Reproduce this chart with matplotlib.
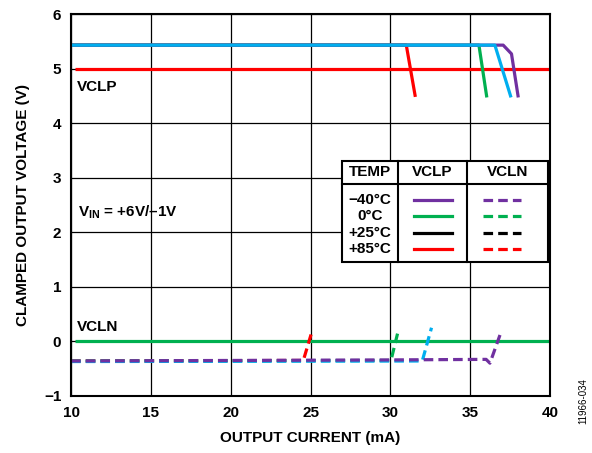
import matplotlib
matplotlib.use("Agg")
import matplotlib.pyplot as plt
from matplotlib.patches import Rectangle

plt.rcParams['font.family'] = ['Liberation Sans', 'DejaVu Sans']
plt.rcParams['font.weight'] = 'bold'
plt.rcParams['mathtext.fontset'] = 'custom'
plt.rcParams['mathtext.bf'] = 'Liberation Sans:bold'
plt.rcParams['mathtext.rm'] = 'Liberation Sans:bold'

# clamp levels
vclp_level = 5.0
vcln_level = 0.0

# VCLP curves (output current mA, clamped voltage V)
vclp_m40_x = [10, 37.07, 37.59, 38.0]
vclp_m40_y = [5.43, 5.43, 5.27, 4.5]
vclp_0_x = [10, 35.55, 36.03]
vclp_0_y = [5.43, 5.43, 4.5]
vclp_25_x = [10, 36.55, 37.53]
vclp_25_y = [5.43, 5.43, 4.5]
vclp_85_x = [10, 31.0, 31.55]
vclp_85_y = [5.43, 5.43, 4.51]

# VCLN curves
vcln_m40_x = [10, 30.0, 36.0, 36.24, 36.97]
vcln_m40_y = [-0.36, -0.34, -0.33, -0.40, 0.2]
vcln_0_x = [10, 30.04, 30.5]
vcln_0_y = [-0.36, -0.35, 0.2]
vcln_25_x = [10, 32.0, 32.58]
vcln_25_y = [-0.37, -0.36, 0.25]
vcln_85_x = [10, 24.55, 25.11]
vcln_85_y = [-0.36, -0.35, 0.2]

temps = ['\u221240\u00b0C', '0\u00b0C', '+25\u00b0C', '+85\u00b0C']
legend_colors = ['#7030A0', '#00B050', '#000000', '#FF0000']

purple = '#7030A0'
green = '#00B050'
blue = '#00AEEF'
red = '#FF0000'

fig = plt.figure(figsize=(5.92, 4.53), dpi=100)
ax = fig.add_axes([0.12, 0.126, 0.809, 0.843])

ax.set_xlim(10, 40)
ax.set_ylim(-1, 6)
ax.set_xticks(range(10, 41, 5))
ax.set_yticks(range(-1, 7))
ax.set_yticklabels(['\u22121', '0', '1', '2', '3', '4', '5', '6'])
ax.grid(True, color='black', linewidth=0.9)
ax.set_axisbelow(True)
for s in ax.spines.values():
    s.set_linewidth(1.5)
ax.tick_params(labelsize=11, length=0, pad=7)

lw = 2.3
ax.plot([10.25, 40], [vclp_level, vclp_level], color=red, lw=lw, solid_capstyle='butt')
ax.plot([10.25, 40], [vcln_level, vcln_level], color=green, lw=lw, solid_capstyle='butt')

ax.plot(vclp_85_x, vclp_85_y, color=red, lw=lw)
ax.plot(vclp_0_x, vclp_0_y, color=green, lw=lw)
ax.plot(vclp_m40_x, vclp_m40_y, color=purple, lw=lw)
ax.plot(vclp_25_x, vclp_25_y, color=blue, lw=lw)

dash = (0, (3, 1.6))
ax.plot(vcln_85_x, vcln_85_y, color=red, lw=lw, linestyle=dash)
ax.plot(vcln_0_x, vcln_0_y, color=green, lw=lw, linestyle=dash)
ax.plot(vcln_25_x, vcln_25_y, color=blue, lw=lw, linestyle=dash)
ax.plot(vcln_m40_x, vcln_m40_y, color=purple, lw=lw, linestyle=dash)

ax.set_xlabel('OUTPUT CURRENT (mA)', fontsize=11, fontweight='bold', labelpad=8)
ax.set_ylabel('CLAMPED OUTPUT VOLTAGE (V)', fontsize=11, fontweight='bold', labelpad=10)

ax.text(10.35, 4.66, 'VCLP', fontsize=11, fontweight='bold', va='center')
ax.text(10.35, 0.26, 'VCLN', fontsize=11, fontweight='bold', va='center')
ax.text(10.45, 2.36, r'V$_{\mathbf{IN}}$ = +6V/' + '\u20131V', fontsize=11,
        fontweight='bold', va='center')

# legend table
tx0, tx1 = 27.0, 40.0 - 0.13
ty0, ty1 = 1.45, 3.31
ax.add_patch(Rectangle((tx0, ty0), tx1 - tx0, ty1 - ty0, facecolor='white',
                       edgecolor='black', lw=1.5, zorder=5))
c1, c2 = 30.45, 34.83
hy = 2.88
ax.plot([c1, c1], [ty0, ty1], color='black', lw=1.5, zorder=6)
ax.plot([c2, c2], [ty0, ty1], color='black', lw=1.5, zorder=6)
ax.plot([tx0, tx1], [hy, hy], color='black', lw=1.5, zorder=6)
ax.text((tx0 + c1) / 2, 3.1, 'TEMP', ha='center', va='center', fontsize=11, zorder=7)
ax.text((c1 + c2) / 2, 3.1, 'VCLP', ha='center', va='center', fontsize=11, zorder=7)
ax.text((c2 + tx1) / 2, 3.1, 'VCLN', ha='center', va='center', fontsize=11, zorder=7)
row_y = [2.6, 2.3, 1.99, 1.69]
for t, c, yy in zip(temps, legend_colors, row_y):
    ax.text((tx0 + c1) / 2, yy, t, ha='center', va='center', fontsize=11, zorder=7)
    ax.plot([31.48, 33.84], [yy, yy], color=c, lw=lw, zorder=7)
    ax.plot([35.8, 38.16], [yy, yy], color=c, lw=lw, linestyle=(0, (3, 1.6)), zorder=7)

fig.text(0.985, 0.115, '11966-034', rotation=90, fontsize=7, fontweight='normal',
         ha='center', va='center')

fig.savefig('out.png', dpi=100)
